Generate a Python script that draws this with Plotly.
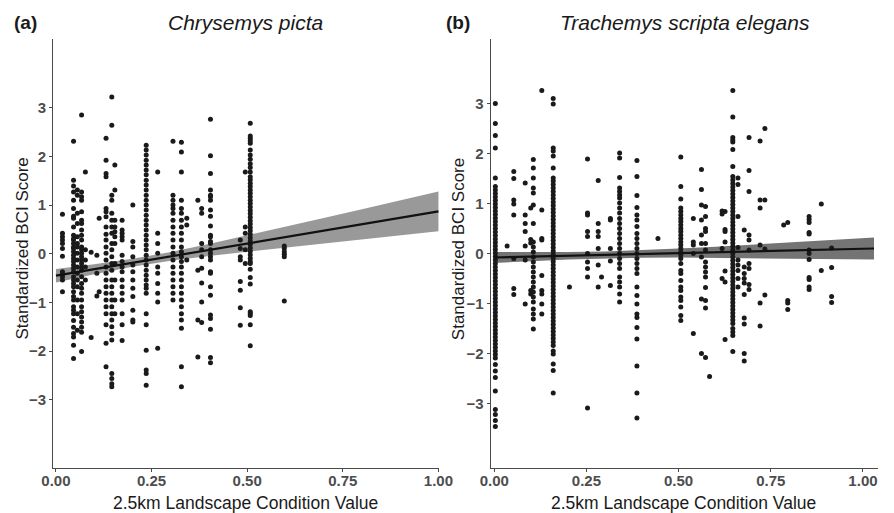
import plotly.graph_objects as go

# ---------------- Panel (a) Chrysemys picta ----------------
a_cols = [0.017, 0.046, 0.056, 0.067, 0.077, 0.092, 0.107, 0.113, 0.131, 0.146,
          0.154, 0.173, 0.201, 0.236, 0.266, 0.306, 0.328, 0.342, 0.371, 0.381,
          0.404, 0.482, 0.495, 0.508, 0.597]
a_vals = [
    [0.81, 0.42, 0.35, 0.28, 0.21, 0.11, -0.05, -0.37, -0.42, -0.47, -0.54, -0.78],
    [2.31, 1.51, 1.39, 1.27, 1.10, 0.93, 0.77, 0.73, 0.55, 0.38, 0.31, 0.28, 0.21, 0.14, 0.11,
     0.04, -0.03, -0.10, -0.16, -0.23, -0.30, -0.37, -0.47, -0.54, -0.61, -0.68, -0.78, -0.88,
     -0.95, -1.09, -1.16, -1.23, -1.37, -1.51, -1.64, -1.71, -1.88, -2.15],
    [1.31, 1.20, 0.83, 0.62, 0.35, 0.21, 0.14, 0.01, -0.13, -0.27, -0.40, -0.54, -0.68, -0.95,
     -1.23, -1.57],
    [2.85, 1.27, 1.17, 1.10, 0.86, 0.69, 0.62, 0.49, 0.38, 0.28, 0.14, 0.08, 0.01, -0.06, -0.13,
     -0.20, -0.27, -0.34, -0.47, -0.61, -0.71, -0.81, -0.95, -1.09, -1.19, -1.30, -1.40, -1.51,
     -1.61, -2.01],
    [1.68, 0.08, -0.13, -0.27, -0.54],
    [0.03, -1.72],
    [-0.03, -0.40, -0.87],
    [0.73, -0.78],
    [2.37, 1.92, 1.65, 1.58, 0.93, 0.86, 0.76, 0.55, 0.40, 0.28, 0.14, 0.01, -0.13, -0.27, -0.40,
     -0.54, -0.68, -0.81, -0.95, -1.09, -1.23, -1.46, -1.84, -2.32],
    [3.22, 2.64, 1.20, 1.10, 0.83, 0.69, 0.55, 0.42, 0.21, 0.08, -0.06, -0.20, -0.34, -0.54,
     -0.68, -0.81, -0.95, -1.09, -1.23, -1.36, -1.50, -1.64, -1.77, -2.46, -2.56, -2.67, -2.73],
    [1.82, 1.31, 0.69, 0.55, 0.45, 0.35, 0.21, -0.20, -0.54, -0.95, -1.23],
    [0.69, 0.49, 0.42, 0.35, 0.28, -0.03, -0.16, -0.27, -0.37, -0.54, -0.68, -0.81, -0.95,
     -1.23, -1.46, -1.78],
    [1.00, 0.25, 0.14, -0.06, -0.23, -0.37, -0.54, -0.71, -0.88, -1.16, -1.36, -1.40],
    [2.23, 2.13, 2.03, 1.92, 1.82, 1.72, 1.62, 1.51, 1.41, 1.31, 1.20, 1.10, 1.00, 0.90, 0.79,
     0.69, 0.59, 0.49, 0.38, 0.28, 0.18, 0.08, -0.03, -0.13, -0.23, -0.34, -0.44, -0.54, -0.64,
     -0.71, -0.81, -1.23, -1.46, -1.98, -2.39, -2.46, -2.70],
    [1.68, 0.42, 0.21, 0.01, -0.27, -0.40, -0.61, -0.81, -0.99, -1.94],
    [2.31, 1.20, 1.10, 1.00, 0.93, 0.83, 0.69, 0.55, 0.42, 0.28, 0.14, 0.01, -0.13, -0.27,
     -0.40, -0.54, -0.68, -0.81, -0.95],
    [2.29, 2.09, 1.68, 1.10, 0.93, 0.83, 0.69, 0.55, 0.42, 0.28, 0.14, 0.04, -0.06, -0.16,
     -0.27, -0.40, -0.54, -0.68, -0.81, -0.95, -1.09, -1.23, -1.36, -1.53, -2.32, -2.73],
    [0.73, 0.59, -0.13],
    [1.10, -0.34, -1.36, -2.12],
    [0.93, 0.83, 0.21, 0.08, -0.06, -0.30, -0.60, -0.99, -1.41],
    [2.76, 2.01, 1.65, 1.31, 1.20, 1.17, 1.10, 0.90, 0.77, 0.57, 0.38, 0.35, 0.25, 0.21, 0.08,
     0.01, -0.06, -0.13, -0.37, -0.40, -0.68, -0.85, -1.26, -1.33, -1.55, -2.13, -2.24],
    [0.28, 0.11, -0.06, -0.13, -0.57, -0.75, -1.11, -1.47],
    [1.68, 0.55, 0.42, 0.08, -0.20],
    [2.68, 2.42, 2.37, 2.32, 2.27, 2.13, 2.03, 1.94, 1.85, 1.77, 1.68, 1.58, 1.52, 1.45, 1.38,
     1.31, 1.24, 1.17, 1.10, 1.03, 0.96, 0.89, 0.82, 0.75, 0.68, 0.61, 0.54, 0.47, 0.40, 0.33,
     0.26, 0.19, 0.12, 0.05, -0.02, -0.09, -0.16, -0.20, -0.32, -0.49, -0.62, -1.19, -1.22,
     -1.27, -1.46, -1.89],
    [0.16, 0.11, 0.04, -0.01, -0.06, -0.97],
]
a_fit_x = [0.0, 0.1, 0.2, 0.3, 0.4, 0.5, 0.6, 0.7, 0.8, 0.9, 1.0]
a_fit = [-0.45, -0.318, -0.186, -0.054, 0.078, 0.21, 0.342, 0.474, 0.606, 0.738, 0.87]
a_lo = [-0.589, -0.419, -0.267, -0.144, -0.044, 0.045, 0.130, 0.214, 0.296, 0.378, 0.46]
a_hi = [-0.311, -0.217, -0.105, 0.036, 0.200, 0.375, 0.554, 0.734, 0.916, 1.098, 1.28]

# ---------------- Panel (b) Trachemys scripta elegans ----------------
b_cols = [0.003, 0.035, 0.053, 0.084, 0.099, 0.106, 0.129, 0.160, 0.204, 0.253, 0.282,
          0.291, 0.315, 0.340, 0.387, 0.444, 0.506, 0.540, 0.562, 0.573, 0.584, 0.618,
          0.626, 0.647, 0.661, 0.678, 0.691, 0.721, 0.734, 0.785, 0.796, 0.854, 0.887, 0.915]
b_vals = [
    [3.00, 2.60, 2.36, 2.11, 1.51, 1.34, 1.27, 1.20, 1.13, 1.06, 0.99, 0.92, 0.85, 0.78, 0.71,
     0.64, 0.57, 0.50, 0.43, 0.36, 0.29, 0.22, 0.15, 0.08, 0.01, -0.06, -0.13, -0.20, -0.27,
     -0.34, -0.41, -0.48, -0.55, -0.62, -0.69, -0.76, -0.83, -0.90, -0.97, -1.04, -1.11, -1.18,
     -1.25, -1.32, -1.39, -1.46, -1.53, -1.60, -1.67, -1.74, -1.81, -1.88, -1.95, -2.02, -2.09,
     -2.22, -2.35, -2.48, -2.75, -3.12, -3.22, -3.34, -3.46],
    [0.15],
    [1.64, 1.50, 1.07, 0.99, 0.77, -0.10, -0.70, -0.82],
    [1.41, 0.77, 0.60, 0.44, 0.15, -0.13, -1.01],
    [0.91, 0.28, 0.21, -0.74, -0.81],
    [1.88, 1.71, 1.51, 1.31, 1.21, 0.97, 0.60, 0.23, 0.13, 0.03, -0.07, -0.17, -0.27, -0.37,
     -0.47, -0.57, -0.67, -0.77, -0.87, -0.97, -1.11, -1.21, -1.31, -1.51],
    [3.26, 0.87, 0.30, 0.27, -0.44, -0.74, -0.81, -1.01, -1.21],
    [3.10, 2.99, 2.11, 2.05, 1.95, 1.71, 1.51, 1.45, 1.38, 1.31, 1.24, 1.17, 1.10, 1.03, 0.96,
     0.89, 0.82, 0.75, 0.68, 0.61, 0.54, 0.47, 0.40, 0.33, 0.26, 0.19, 0.12, 0.05, -0.02, -0.09,
     -0.16, -0.23, -0.30, -0.37, -0.44, -0.51, -0.58, -0.65, -0.72, -0.79, -0.86, -0.93, -1.00,
     -1.07, -1.14, -1.21, -1.28, -1.35, -1.42, -1.49, -1.56, -1.63, -1.70, -1.77, -1.84, -1.95,
     -2.01, -2.21, -2.34, -2.79],
    [-0.67],
    [1.89, 0.81, 0.77, 0.44, 0.34, 0.00, -0.17, -0.30, -0.47, -3.09],
    [1.46, 0.60, 0.44, 0.34, 0.10, -0.23, -0.67],
    [-0.47],
    [0.70, 0.67, 0.10, -0.15, -0.64],
    [2.01, 1.91, 1.52, 1.31, 1.24, 1.17, 1.11, 1.01, 0.91, 0.81, 0.70, 0.60, 0.50, 0.40, 0.30,
     0.20, 0.10, 0.00, -0.10, -0.20, -0.30, -0.47, -0.57, -0.67, -0.81, -0.97],
    [1.86, 1.54, 1.16, 0.92, 0.77, 0.67, 0.54, 0.40, 0.30, 0.20, 0.10, 0.00, -0.10, -0.20,
     -0.30, -0.40, -0.67, -0.84, -1.01, -1.21, -1.28, -1.48, -1.71, -2.25, -2.79, -3.29],
    [0.30],
    [1.93, 1.34, 1.09, 0.91, 0.84, 0.77, 0.70, 0.64, 0.57, 0.50, 0.44, 0.37, 0.30, 0.23, 0.17,
     0.10, 0.03, -0.03, -0.10, -0.20, -0.34, -0.40, -0.54, -0.67, -0.74, -0.87, -0.94, -1.07,
     -1.24, -1.34],
    [0.70, 0.23, 0.17, 0.00, -1.60],
    [1.68, 1.28, 0.97, 0.67, 0.37, 0.20, -0.07, -0.91, -2.00],
    [0.94, 0.74, 0.50, 0.44, 0.20, 0.07, -0.17, -0.27, -0.37, -0.47, -0.68, -0.94, -1.09, -2.08],
    [-2.46],
    [0.85, 0.79, 0.10, -0.50],
    [0.84, 0.48, 0.44, 0.23, -0.35, -0.57, -1.72],
    [3.26, 2.73, 2.32, 2.27, 2.23, 2.08, 1.74, 1.54, 1.47, 1.40, 1.33, 1.26, 1.19, 1.12, 1.05,
     0.98, 0.91, 0.84, 0.77, 0.70, 0.63, 0.56, 0.49, 0.42, 0.35, 0.28, 0.21, 0.14, 0.07, 0.00,
     -0.07, -0.14, -0.21, -0.28, -0.35, -0.42, -0.49, -0.56, -0.63, -0.70, -0.77, -0.84, -0.91,
     -0.98, -1.05, -1.12, -1.19, -1.26, -1.33, -1.40, -1.50, -1.57, -1.64, -1.96],
    [1.51, 1.38, 0.74, 0.12, -0.13, -0.23, -0.34, -0.50, -0.67],
    [0.47, -0.27, -0.40, -0.50, -0.59, -0.82, -1.29, -1.41, -2.00, -2.15],
    [2.32, 1.66, 1.24, 0.37, 0.27, 0.07, -0.20, -0.30, -0.62, -0.72],
    [2.25, 1.07, 0.91, 0.17, -0.99, -1.45],
    [2.50, 1.07, 0.09, -0.83],
    [0.57],
    [0.62, -0.94, -0.99, -1.12],
    [0.74, 0.68, 0.62, 0.42, 0.39, 0.07, 0.00, -0.12, -0.48, -0.52, -0.67, -0.72],
    [0.99, -0.34],
    [0.11, -0.28, -0.86, -0.98],
]
b_fit_x = [0.0, 0.1, 0.2, 0.3, 0.4, 0.5, 0.6, 0.7, 0.8, 0.9, 1.03]
b_fit = [-0.080, -0.063, -0.045, -0.028, -0.010, 0.008, 0.025, 0.043, 0.060, 0.078, 0.100]
b_lo = [-0.190, -0.153, -0.121, -0.098, -0.086, -0.082, -0.085, -0.091, -0.099, -0.107, -0.120]
b_hi = [0.030, 0.027, 0.031, 0.042, 0.066, 0.098, 0.135, 0.177, 0.219, 0.263, 0.320]

x_ticks = [0, 0.25, 0.5, 0.75, 1.0]
x_tick_text = ["0.00", "0.25", "0.50", "0.75", "1.00"]
y_ticks = [-3, -2, -1, 0, 1, 2, 3]


def flatten(cols, vals):
    xs, ys = [], []
    for c, v in zip(cols, vals):
        xs += [c] * len(v)
        ys += v
    return xs, ys


fig = go.Figure()
POINT = "#1a1a1a"
panels = [
    ("x", "y", a_cols, a_vals, a_fit_x, a_fit, a_lo, a_hi, "#999999"),
    ("x2", "y2", b_cols, b_vals, b_fit_x, b_fit, b_lo, b_hi, "#747474"),
]
for xa, ya, cols, vals, fx, fy, lo, hi, band in panels:
    fig.add_trace(go.Scatter(x=fx + fx[::-1], y=hi + lo[::-1], fill="toself",
                             fillcolor=band, line=dict(width=0), mode="lines",
                             xaxis=xa, yaxis=ya, hoverinfo="skip", showlegend=False))
    px_, py_ = flatten(cols, vals)
    fig.add_trace(go.Scatter(x=px_, y=py_, mode="markers",
                             marker=dict(size=5, color=POINT),
                             xaxis=xa, yaxis=ya, showlegend=False))
    fig.add_trace(go.Scatter(x=fx, y=fy, mode="lines",
                             line=dict(color="#111111", width=2.2),
                             xaxis=xa, yaxis=ya, showlegend=False))

FONT = "Liberation Sans, Arial, sans-serif"
tickfont = dict(family=FONT, size=15, color="#4d4d4d", weight="bold")
axis_common = dict(showgrid=False, zeroline=False, showline=True, linecolor="#4a4a4a",
                   linewidth=1, ticks="outside", ticklen=3, tickcolor="#4a4a4a",
                   tickfont=tickfont)

# The page body adds an 8 px offset, so the figure is 8 px smaller each way.
fig.update_layout(
    width=886, height=505,
    margin=dict(l=45, r=2, t=31, b=45),
    paper_bgcolor="white", plot_bgcolor="white",
    xaxis=dict(domain=[0, 0.4684], range=[-0.0077, 1.0026], tickvals=x_ticks,
               ticktext=x_tick_text, anchor="y", ticklabelstandoff=-4, **axis_common),
    yaxis=dict(domain=[0, 1], range=[-4.40, 4.41], tickvals=y_ticks, anchor="x",
               **axis_common),
    xaxis2=dict(domain=[0.5304, 1], range=[-0.0099, 1.0408], tickvals=x_ticks,
                ticktext=x_tick_text, anchor="y2", ticklabelstandoff=-4, **axis_common),
    yaxis2=dict(domain=[0, 1], range=[-4.29, 4.29], tickvals=y_ticks, anchor="x2",
                **axis_common),
)

ann = []
def add(text, x, y, size, angle=0, weight="normal", style="normal", color="#1a1a1a"):
    ann.append(dict(text=text, x=x, y=y, xref="paper", yref="paper", showarrow=False,
                    xanchor="center", yanchor="middle", textangle=angle,
                    font=dict(family=FONT, size=size, color=color, weight=weight,
                              style=style)))

add("(a)", -0.0334, 1.0396, 19, weight="bold")
add("Chrysemys picta", 0.2336, 1.0396, 21, style="italic")
add("(b)", 0.491, 1.0396, 19, weight="bold")
add("Trachemys scripta elegans", 0.7664, 1.0396, 21, style="italic")
add("Standardized BCI Score", -0.0369, 0.5105, 17, angle=-90)
add("Standardized BCI Score", 0.4923, 0.5105, 17, angle=-90)
add("2.5km Landscape Condition Value", 0.2336, -0.0816, 17.5)
add("2.5km Landscape Condition Value", 0.764, -0.0816, 17.5)
fig.update_layout(annotations=ann)

fig.write_html("out.html")
